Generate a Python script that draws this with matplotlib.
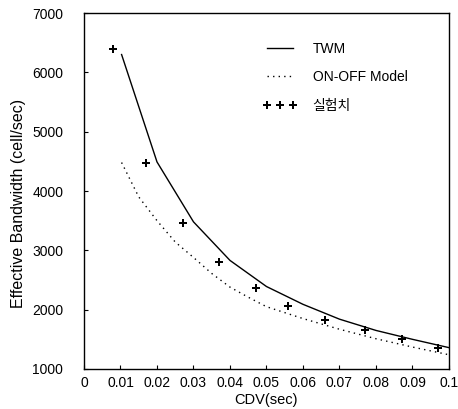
import matplotlib
matplotlib.use("Agg")
import matplotlib.pyplot as plt

plt.rcParams['font.family'] = ['Liberation Sans', 'Noto Sans CJK KR', 'DejaVu Sans']

# TWM (solid)
twm_x = [0.0103, 0.02, 0.03, 0.04, 0.05, 0.06, 0.07, 0.08, 0.09, 0.1]
twm_y = [6300, 4490, 3480, 2830, 2390, 2090, 1840, 1650, 1500, 1360]

# ON-OFF Model (dotted)
onoff_x = [0.0103, 0.015, 0.02, 0.025, 0.03, 0.035, 0.04, 0.045, 0.05, 0.06, 0.07, 0.08, 0.09, 0.1]
onoff_y = [4480, 3900, 3500, 3140, 2880, 2610, 2380, 2210, 2050, 1850, 1670, 1510, 1370, 1240]

# measured values (실험치)
meas_x = [0.008, 0.017, 0.027, 0.037, 0.047, 0.056, 0.066, 0.077, 0.087, 0.097]
meas_y = [6400, 4480, 3460, 2810, 2370, 2060, 1820, 1660, 1500, 1360]

x_ticks = [0, 0.01, 0.02, 0.03, 0.04, 0.05, 0.06, 0.07, 0.08, 0.09, 0.1]
x_tick_labels = ['0', '0.01', '0.02', '0.03', '0.04', '0.05', '0.06', '0.07', '0.08', '0.09', '0.1']
y_ticks = [1000, 2000, 3000, 4000, 5000, 6000, 7000]

fig = plt.figure(figsize=(4.58, 4.09), dpi=100)
ax = fig.add_axes([0.1834, 0.0978, 0.7969, 0.8704])

ax.plot(twm_x, twm_y, color='black', lw=1.0, label='TWM')
ax.plot(onoff_x, onoff_y, color='black', lw=1.0, linestyle=(0, (1, 3)), label='ON-OFF Model')
ax.plot(meas_x, meas_y, linestyle='none', marker='P', color='black', markersize=6,
        markeredgewidth=0, label='실험치')

ax.set_xlim(0, 0.1)
ax.set_ylim(1000, 7000)
ax.set_xticks(x_ticks)
ax.set_xticklabels(x_tick_labels)
ax.set_yticks(y_ticks)
ax.tick_params(direction='in', length=3, labelsize=10, top=False, right=False)
ax.tick_params(axis='x', pad=5)
ax.tick_params(axis='y', pad=15)
for s in ax.spines.values():
    s.set_linewidth(1.0)

ax.set_xlabel('CDV(sec)', fontsize=10.5, labelpad=2)
ax.set_ylabel('Effective Bandwidth (cell/sec)', fontsize=11.5, labelpad=4)
ax.yaxis.label.set_y(0.465)

ax.legend(loc='upper left', bbox_to_anchor=(0.455, 0.955), frameon=False, fontsize=10,
          numpoints=3, handlelength=2.5, labelspacing=1.05, handletextpad=1.1)

fig.savefig('out.png', dpi=100)
